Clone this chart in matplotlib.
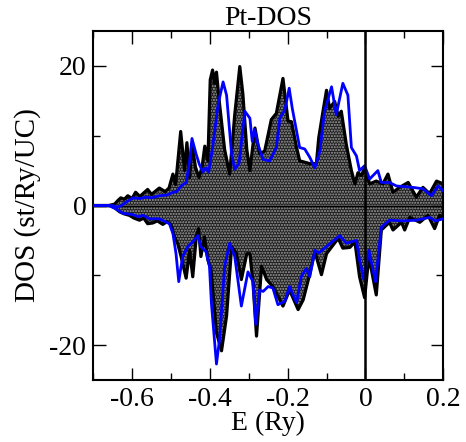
import numpy as np
import matplotlib
matplotlib.use("Agg")
import matplotlib.pyplot as plt
from matplotlib.ticker import MultipleLocator

plt.rcParams['font.family'] = ['Liberation Serif', 'DejaVu Serif']
plt.rcParams['axes.unicode_minus'] = False

# spin-up, black (filled)
up_k_e = [-0.70, -0.66, -0.645, -0.635, -0.629, -0.62, -0.611, -0.60, -0.591, -0.58,
          -0.56, -0.55, -0.53, -0.515, -0.505, -0.495, -0.488, -0.475, -0.465, -0.459,
          -0.452, -0.446, -0.437, -0.428, -0.42, -0.413, -0.405, -0.399, -0.393, -0.388,
          -0.383, -0.375, -0.362, -0.349, -0.336, -0.323, -0.315, -0.305, -0.297, -0.284,
          -0.272, -0.259, -0.242, -0.229, -0.212, -0.199, -0.19, -0.177, -0.169, -0.143,
          -0.126, -0.12, -0.109, -0.10, -0.092, -0.079, -0.07, -0.062, -0.049, -0.036,
          -0.027, -0.019, -0.01, -0.002, 0.011, 0.028, 0.045, 0.058, 0.071, 0.088,
          0.11, 0.131, 0.148, 0.165, 0.183, 0.2]
up_k = [0, 0, 0.2, 0.8, 1.1, 0.9, 1.4, 1.0, 1.9, 1.3,
        2.3, 1.6, 2.5, 2.0, 2.5, 4.5, 3.0, 10.6, 5.0, 9.0,
        4.0, 8.8, 5.5, 4.0, 5.5, 8.5, 6.4, 18.0, 19.4, 17.5,
        19.1, 14.5, 8.0, 4.5, 13.0, 19.9, 15.9, 8.0, 5.0, 11.1,
        7.4, 7.8, 12.3, 13.2, 18.2, 12.1, 12.0, 8.3, 6.4, 6.0,
        6.0, 9.7, 13.5, 16.5, 13.9, 14.9, 12.8, 13.5, 8.7, 5.0,
        3.1, 4.7, 4.3, 5.4, 3.1, 3.5, 3.1, 4.5, 1.9, 2.6,
        3.3, 1.2, 2.6, 1.7, 3.5, 3.1]

# spin-up, blue
up_b_e = [-0.70, -0.65, -0.64, -0.63, -0.615, -0.598, -0.58, -0.564, -0.55, -0.53,
          -0.51, -0.495, -0.485, -0.474, -0.461, -0.452, -0.446, -0.435, -0.427, -0.418,
          -0.41, -0.403, -0.397, -0.392, -0.379, -0.366, -0.357, -0.344, -0.336, -0.325,
          -0.31, -0.297, -0.291, -0.285, -0.276, -0.263, -0.246, -0.229, -0.22, -0.207,
          -0.196, -0.188, -0.169, -0.156, -0.143, -0.13, -0.117, -0.105, -0.087, -0.075,
          -0.058, -0.045, -0.036, -0.023, -0.015, -0.002, 0.011, 0.032, 0.041, 0.062,
          0.08, 0.101, 0.122, 0.148, 0.17, 0.187, 0.2]
up_b = [0, 0, -0.2, -0.1, 0.5, 1.1, 1.0, 1.2, 1.1, 1.4,
        1.5, 1.9, 2.0, 2.8, 3.3, 6.4, 9.6, 7.3, 5.9, 4.8,
        5.4, 4.8, 6.9, 8.7, 14.4, 17.7, 15.8, 7.3, 5.2, 6.0,
        13.5, 12.5, 9.2, 10.9, 8.7, 6.6, 6.4, 8.3, 12.5, 13.7,
        16.8, 13.9, 8.3, 8.1, 6.9, 5.4, 7.8, 13.5, 17.0, 13.0,
        17.5, 15.8, 8.3, 7.1, 5.0, 5.7, 3.8, 5.0, 3.3, 3.3,
        2.8, 2.7, 2.6, 2.4, 1.4, 2.8, 2.1]

# spin-down, black (filled)
dn_k_e = [-0.70, -0.655, -0.645, -0.632, -0.62, -0.607, -0.595, -0.581, -0.57, -0.56,
          -0.547, -0.535, -0.521, -0.51, -0.50, -0.491, -0.483, -0.474, -0.461, -0.452,
          -0.444, -0.435, -0.429, -0.423, -0.414, -0.405, -0.397, -0.383, -0.37, -0.357,
          -0.344, -0.332, -0.319, -0.305, -0.297, -0.289, -0.28, -0.267, -0.254, -0.238,
          -0.212, -0.195, -0.173, -0.16, -0.143, -0.13, -0.113, -0.10, -0.07, -0.058,
          -0.04, -0.027, -0.015, -0.002, 0.009, 0.028, 0.041, 0.062, 0.071, 0.093,
          0.101, 0.114, 0.14, 0.161, 0.178, 0.191, 0.2]
dn_k = [0, 0, -0.3, -0.9, -1.2, -1.4, -1.8, -2.1, -1.8, -2.6,
        -2.5, -2.2, -2.7, -2.3, -2.7, -4.5, -5.4, -7.3, -10.4, -6.4,
        -10.2, -4.5, -3.3, -7.3, -4.5, -7.8, -9.2, -18.2, -20.8, -15.8,
        -5.9, -6.8, -10.6, -6.9, -6.9, -11.1, -18.7, -8.7, -10.6, -11.6,
        -14.4, -12.1, -14.9, -13.5, -9.8, -6.6, -9.9, -6.9, -4.7, -6.1,
        -6.0, -5.2, -10.2, -13.2, -7.3, -12.8, -3.5, -2.4, -3.5, -2.4,
        -3.5, -1.7, -2.4, -1.4, -3.3, -1.4, -1.9]

# spin-down, blue
dn_b_e = [-0.70, -0.66, -0.641, -0.624, -0.598, -0.585, -0.572, -0.555, -0.53, -0.515,
          -0.504, -0.495, -0.487, -0.48, -0.47, -0.457, -0.444, -0.431, -0.423, -0.41,
          -0.401, -0.396, -0.383, -0.375, -0.362, -0.349, -0.336, -0.319, -0.302, -0.289,
          -0.282, -0.272, -0.263, -0.25, -0.238, -0.225, -0.207, -0.195, -0.177, -0.165,
          -0.152, -0.143, -0.13, -0.12, -0.105, -0.066, -0.049, -0.023, -0.015, -0.004,
          0.009, 0.026, 0.041, 0.062, 0.097, 0.131, 0.165, 0.18, 0.2]
dn_b = [0, 0, -0.5, -1.1, -1.3, -1.6, -1.4, -1.9, -1.9, -2.3,
        -2.6, -4.0, -6.9, -10.9, -7.3, -5.9, -5.2, -4.3, -5.9, -6.6,
        -8.7, -14.0, -22.7, -19.1, -8.7, -5.4, -7.3, -14.4, -9.5, -10.9,
        -17.0, -12.1, -12.3, -11.6, -11.8, -14.2, -13.7, -11.6, -13.9, -10.2,
        -9.0, -10.2, -6.4, -6.8, -6.1, -4.3, -5.4, -5.0, -7.8, -10.6,
        -6.4, -10.9, -3.1, -2.1, -2.2, -2.1, -1.7, -2.2, -1.9]

fig = plt.figure(figsize=(4.66, 4.42), dpi=100)
ax = fig.add_axes([0.2, 0.14, 0.751, 0.79])

for e, d in [(up_k_e, up_k), (dn_k_e, dn_k)]:
    ax.fill_between(e, 0, d, facecolor='#1e1e1e', edgecolor='#a0a0a0',
                    hatch='......', linewidth=0, zorder=1)
ax.axhline(0, color='black', lw=1, zorder=2)
ax.plot(up_k_e, up_k, color='black', lw=2.3, zorder=3, solid_joinstyle='round')
ax.plot(dn_k_e, dn_k, color='black', lw=2.3, zorder=3, solid_joinstyle='round')
ax.plot(up_b_e, up_b, color='#0000ff', lw=2.0, zorder=4, solid_joinstyle='round')
ax.plot(dn_b_e, dn_b, color='#0000ff', lw=2.0, zorder=4, solid_joinstyle='round')
ax.axvline(0, color='black', lw=1.8, zorder=5)

ax.set_xlim(-0.7, 0.2)
ax.set_ylim(-25, 25)
ax.xaxis.set_major_locator(MultipleLocator(0.2))
ax.xaxis.set_minor_locator(MultipleLocator(0.1))
ax.yaxis.set_major_locator(MultipleLocator(20))
ax.yaxis.set_minor_locator(MultipleLocator(10))
ax.xaxis.set_major_formatter(plt.FuncFormatter(lambda v, p: '0' if abs(v) < 1e-9 else ('%g' % round(v, 1))))
ax.tick_params(which='both', direction='in', top=True, right=True, labelsize=20, width=1, pad=5)
ax.tick_params(which='major', length=9)
ax.tick_params(which='minor', length=5)
for s in ax.spines.values():
    s.set_linewidth(1.5)

ax.set_title('Pt-DOS', fontsize=20, pad=1)
ax.set_xlabel('E (Ry)', fontsize=20, labelpad=-1)
ax.set_ylabel('DOS (st/Ry/UC)', fontsize=21, labelpad=6)

fig.savefig('out.png', dpi=100)
